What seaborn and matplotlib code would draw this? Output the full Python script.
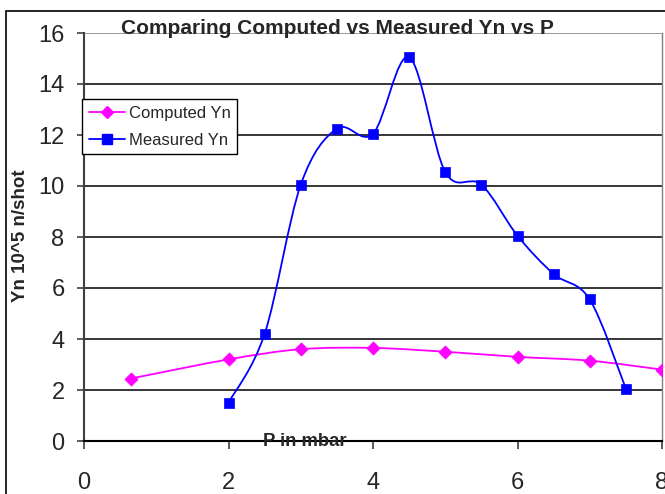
import numpy as np
import matplotlib
matplotlib.use("Agg")
import matplotlib.pyplot as plt
import seaborn as sns
from matplotlib.path import Path
from matplotlib.patches import PathPatch, Rectangle
from matplotlib.lines import Line2D

# ---- data ----
computed_p = [0.65, 2.0, 3.0, 4.0, 5.0, 6.0, 7.0, 8.0]
computed_yn = [2.45, 3.2, 3.6, 3.65, 3.5, 3.3, 3.15, 2.8]
measured_p = [2.0, 2.5, 3.0, 3.5, 4.0, 4.5, 5.0, 5.5, 6.0, 6.5, 7.0, 7.5]
measured_yn = [1.5, 4.2, 10.05, 12.25, 12.05, 15.05, 10.55, 10.05, 8.05, 6.55, 5.55, 2.05]
x_ticks = [0, 2, 4, 6, 8]
y_ticks = [0, 2, 4, 6, 8, 10, 12, 14, 16]
title = "Comparing Computed vs Measured Yn vs P"
x_label = "P in mbar"
y_label = "Yn 10^5 n/shot"
series_names = ["Computed Yn", "Measured Yn"]
colors = ["#FF00FF", "#0000FF"]

sns.set_style("white")
plt.rcParams["font.family"] = ["Liberation Sans", "DejaVu Sans"]

W, H = 665, 494
fig = plt.figure(figsize=(W / 100, H / 100), dpi=100)
ax = fig.add_axes([84 / W, (H - 441) / H, (662 - 84) / W, (441 - 33) / H])

# outer chart border
fig.patches.append(Rectangle((6 / W, -0.05), 1.2, (H - 11) / H + 0.05,
                             transform=fig.transFigure, fill=False,
                             edgecolor="black", linewidth=1.2, zorder=0))


def smooth_path(x, y, t=1 / 6):
    pts = np.column_stack([x, y]).astype(float)
    n = len(pts)
    verts = [pts[0]]
    codes = [Path.MOVETO]
    for i in range(n - 1):
        p0 = pts[i - 1] if i > 0 else pts[i]
        p1 = pts[i]
        p2 = pts[i + 1]
        p3 = pts[i + 2] if i + 2 < n else pts[i + 1]
        c1 = p1 + (p2 - p0) * t
        c2 = p2 - (p3 - p1) * t
        verts += [c1, c2, p2]
        codes += [Path.CURVE4] * 3
    return Path(verts, codes)


for xs, ys, c in [(computed_p, computed_yn, colors[0]), (measured_p, measured_yn, colors[1])]:
    ax.add_patch(PathPatch(smooth_path(xs, ys), fill=False, edgecolor=c,
                           linewidth=1.3, zorder=3))

sns.scatterplot(x=computed_p, y=computed_yn, marker="D", color=colors[0], s=45,
                edgecolor=colors[0], linewidth=0.5, ax=ax, zorder=4)
sns.scatterplot(x=measured_p, y=measured_yn, marker="s", color=colors[1], s=45,
                edgecolor=colors[1], linewidth=0.5, ax=ax, zorder=4)

ax.set_xlim(0, 8)
ax.set_ylim(0, 16)
ax.set_xticks(x_ticks)
ax.set_yticks(y_ticks)
ax.set_xticklabels([str(v) for v in x_ticks])
ax.set_yticklabels([str(v) for v in y_ticks])
ax.tick_params(axis="x", direction="out", length=6, width=1.2, pad=16,
               labelsize=17, color="#404040", bottom=True)
ax.tick_params(axis="y", direction="out", length=5, width=1.2, pad=9,
               labelsize=17, color="#404040", left=True)

for yv in y_ticks[1:]:
    ax.axhline(yv, color="#808080" if yv == 16 else "black", linewidth=1.1, zorder=1)

ax.spines["top"].set_visible(False)
ax.spines["right"].set_color("#808080")
ax.spines["right"].set_linewidth(1.0)
ax.spines["left"].set_color("#404040")
ax.spines["left"].set_linewidth(1.5)
ax.spines["bottom"].set_color("black")
ax.spines["bottom"].set_linewidth(1.5)

fig.text(337 / W, 1 - 29 / H, title, ha="center", va="center",
         fontsize=15, fontweight="bold")
fig.text(305 / W, 1 - 441 / H, x_label, ha="center", va="center",
         fontsize=13.3, fontweight="bold")
fig.text(21 / W, 1 - 236 / H, y_label, ha="center", va="center",
         rotation=90, fontsize=13.5, fontweight="bold")

handles = [Line2D([], [], color=colors[0], marker="D", markersize=6.5, linewidth=1.3),
           Line2D([], [], color=colors[1], marker="s", markersize=6.5, linewidth=1.3)]
leg = ax.legend(handles, series_names, loc="upper left",
                bbox_to_anchor=((82 - 84) / (662 - 84), (441 - 99) / (441 - 33)),
                fontsize=12, frameon=True, fancybox=False, edgecolor="black",
                framealpha=1, borderpad=0.4, handlelength=2.15, handletextpad=0.25,
                labelspacing=0.73, borderaxespad=0)
leg.get_frame().set_linewidth(1.0)
leg.set_zorder(5)

fig.savefig("out.png", dpi=100)
